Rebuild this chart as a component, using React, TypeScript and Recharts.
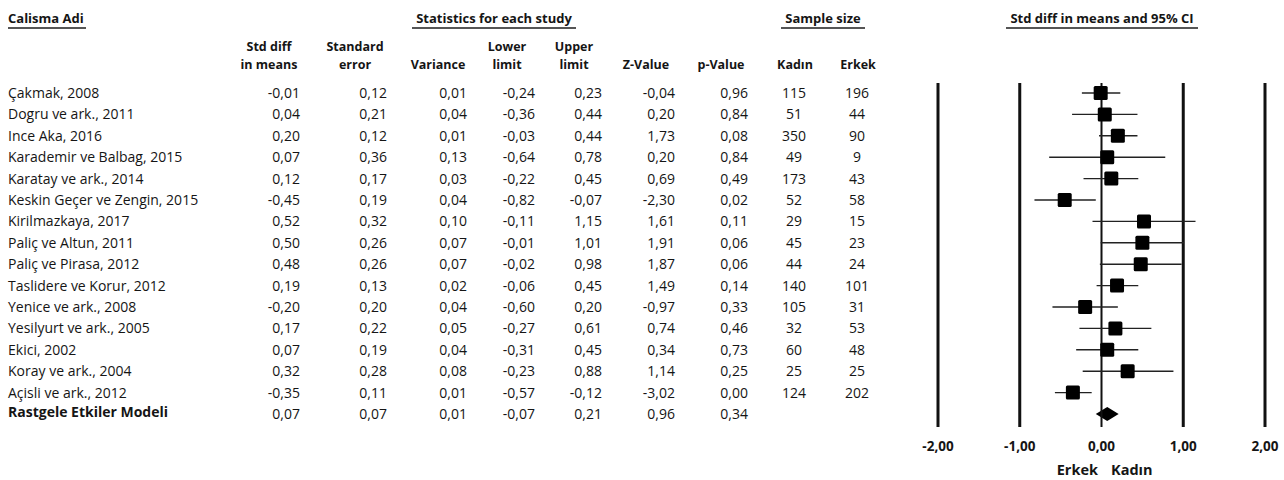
import React from "react";
import { ScatterChart, Scatter, XAxis, YAxis, ReferenceLine, ReferenceArea } from "recharts";

// Calisma verileri (forest plot)
const studies = [
  "Çakmak, 2008",
  "Dogru ve ark., 2011",
  "Ince Aka, 2016",
  "Karademir ve Balbag, 2015",
  "Karatay ve ark., 2014",
  "Keskin Geçer ve Zengin, 2015",
  "Kirilmazkaya, 2017",
  "Paliç ve Altun, 2011",
  "Paliç ve Pirasa, 2012",
  "Taslidere ve Korur, 2012",
  "Yenice ve ark., 2008",
  "Yesilyurt ve ark., 2005",
  "Ekici, 2002",
  "Koray ve ark., 2004",
  "Açisli ve ark., 2012",
];
const stdDiff = [-0.01, 0.04, 0.2, 0.07, 0.12, -0.45, 0.52, 0.5, 0.48, 0.19, -0.2, 0.17, 0.07, 0.32, -0.35];
const stdErr = [0.12, 0.21, 0.12, 0.36, 0.17, 0.19, 0.32, 0.26, 0.26, 0.13, 0.2, 0.22, 0.19, 0.28, 0.11];
const variance = [0.01, 0.04, 0.01, 0.13, 0.03, 0.04, 0.1, 0.07, 0.07, 0.02, 0.04, 0.05, 0.04, 0.08, 0.01];
const lower = [-0.24, -0.36, -0.03, -0.64, -0.22, -0.82, -0.11, -0.01, -0.02, -0.06, -0.6, -0.27, -0.31, -0.23, -0.57];
const upper = [0.23, 0.44, 0.44, 0.78, 0.45, -0.07, 1.15, 1.01, 0.98, 0.45, 0.2, 0.61, 0.45, 0.88, -0.12];
const zValue = [-0.04, 0.2, 1.73, 0.2, 0.69, -2.3, 1.61, 1.91, 1.87, 1.49, -0.97, 0.74, 0.34, 1.14, -3.02];
const pValue = [0.96, 0.84, 0.08, 0.84, 0.49, 0.02, 0.11, 0.06, 0.06, 0.14, 0.33, 0.46, 0.73, 0.25, 0.0];
const nKadin = [115, 51, 350, 49, 173, 52, 29, 45, 44, 140, 105, 32, 60, 25, 124];
const nErkek = [196, 44, 90, 9, 43, 58, 15, 23, 24, 101, 31, 53, 48, 25, 202];

const summaryName = "Rastgele Etkiler Modeli";
// std diff, std err, variance, lower, upper, z, p
const summaryStats = [0.07, 0.07, 0.01, -0.07, 0.21, 0.96, 0.34];

const xTicks = [-2, -1, 0, 1, 2];
const frameLines = [-2, -1, 1, 2];

const W = 1284;
const H = 480;
const ROW0 = 93;
const ROW_H = 21.4;
const PLOT_TOP = 83;
const PLOT_BOTTOM = 427;
const PLOT_LEFT = 938;
const PLOT_RIGHT = 1265;
const AXIS_H = 30;
const FONT = "'Open Sans', sans-serif";
const INK = "#151515";

const fmt = (v: number) => v.toFixed(2).replace(".", ",");
const rowY = (i: number) => ROW0 + ROW_H * i;

const points = studies.map((name, i) => ({ name, x: stdDiff[i], row: i }));
const summaryRow = studies.length;

// kolon yerlesimi: align "right" -> pos = sag kenar, "center" -> pos = orta
const columns = [
  { h1: "Std diff", h2: "in means", pos: 300, hc: 269, align: "right" },
  { h1: "Standard", h2: "error", pos: 387, hc: 355, align: "right" },
  { h1: "", h2: "Variance", pos: 467, hc: 438, align: "right" },
  { h1: "Lower", h2: "limit", pos: 535, hc: 507, align: "right" },
  { h1: "Upper", h2: "limit", pos: 602, hc: 574, align: "right" },
  { h1: "", h2: "Z-Value", pos: 675, hc: 646, align: "right" },
  { h1: "", h2: "p-Value", pos: 748, hc: 721, align: "right" },
  { h1: "", h2: "Kadın", pos: 794, hc: 795, align: "center" },
  { h1: "", h2: "Erkek", pos: 857, hc: 858, align: "center" },
];

const studyCells = (i: number) => [
  fmt(stdDiff[i]),
  fmt(stdErr[i]),
  fmt(variance[i]),
  fmt(lower[i]),
  fmt(upper[i]),
  fmt(zValue[i]),
  fmt(pValue[i]),
  String(nKadin[i]),
  String(nErkek[i]),
];

const Cell: React.FC<{ text: string; pos: number; top: number; align: string; bold?: boolean; size?: number }> = ({
  text,
  pos,
  top,
  align,
  bold,
  size,
}) => {
  const w = 200;
  const left = align === "right" ? pos - w : align === "center" ? pos - w / 2 : pos;
  return (
    <div
      style={{
        position: "absolute",
        left,
        top,
        width: w,
        textAlign: align as any,
        fontWeight: bold ? 700 : 400,
        fontSize: size ?? 14,
        whiteSpace: "nowrap",
        lineHeight: "18px",
      }}
    >
      {text}
    </div>
  );
};

const GroupHeader: React.FC<{ text: string; left: number; width: number }> = ({ text, left, width }) => (
  <div
    style={{
      position: "absolute",
      left,
      top: 9,
      width,
      textAlign: "center",
      fontWeight: 700,
      fontSize: 13,
      lineHeight: "18px",
      borderBottom: "2.5px solid #555",
    }}
  >
    {text}
  </div>
);

const Square = (props: any) => {
  const { cx, cy } = props;
  return <rect x={cx - 7} y={cy - 7} width={14} height={14} rx={1.5} fill="#000" />;
};

const Diamond = (props: any) => {
  const { x, y, width, height } = props;
  const mx = x + width / 2;
  const my = y + height / 2;
  return <polygon points={`${x},${my} ${mx},${y} ${x + width},${my} ${mx},${y + height}`} fill="#000" />;
};

export default function App() {
  return (
    <div
      style={{
        position: "absolute",
        left: 0,
        top: 0,
        width: W,
        height: H,
        background: "#fff",
        fontFamily: FONT,
        fontSize: 14,
        color: INK,
        overflow: "hidden",
      }}
    >
      <div
        style={{
          position: "absolute",
          left: 8,
          top: 9,
          fontWeight: 700,
          fontSize: 13,
          lineHeight: "18px",
          borderBottom: "2.5px solid #555",
          paddingRight: 2,
        }}
      >
        Calisma Adi
      </div>
      <GroupHeader text="Statistics for each study" left={412} width={164} />
      <GroupHeader text="Sample size" left={781} width={84} />
      <GroupHeader text="Std diff in means and 95% CI" left={1006} width={192} />

      {columns.map((c, k) => (
        <React.Fragment key={k}>
          {c.h1 && <Cell text={c.h1} pos={c.hc} top={38} align="center" bold size={12.5} />}
          <Cell text={c.h2} pos={c.hc} top={56} align="center" bold size={12.5} />
        </React.Fragment>
      ))}

      {studies.map((name, i) => (
        <React.Fragment key={name}>
          <Cell text={name} pos={8} top={rowY(i) - 9} align="left" />
          {studyCells(i).map((t, k) => (
            <Cell key={k} text={t} pos={columns[k].pos} top={rowY(i) - 9} align={columns[k].align} />
          ))}
        </React.Fragment>
      ))}
      <Cell text={summaryName} pos={8} top={rowY(summaryRow) - 11} align="left" bold />
      {summaryStats.map((v, k) => (
        <Cell key={k} text={fmt(v)} pos={columns[k].pos} top={rowY(summaryRow) - 9} align={columns[k].align} />
      ))}

      <div style={{ position: "absolute", left: 0, top: 0 }}>
        <ScatterChart
          width={W}
          height={H}
          margin={{ top: PLOT_TOP, bottom: H - PLOT_BOTTOM - AXIS_H, left: PLOT_LEFT, right: W - PLOT_RIGHT }}
        >
          <XAxis
            type="number"
            dataKey="x"
            domain={[-2, 2]}
            ticks={xTicks}
            tickFormatter={fmt}
            axisLine={false}
            tickLine={false}
            height={AXIS_H}
            tickMargin={8}
            tick={{ fontFamily: FONT, fontSize: 13.5, fontWeight: 700, fill: INK }}
          />
          <YAxis
            type="number"
            dataKey="row"
            hide
            width={0}
            reversed
            allowDataOverflow
            domain={[(PLOT_TOP - ROW0) / ROW_H, (PLOT_BOTTOM - ROW0) / ROW_H]}
          />
          {frameLines.map((v) => (
            <ReferenceLine key={v} x={v} stroke="#111" strokeWidth={3} />
          ))}
          <ReferenceLine x={0} stroke="#111" strokeWidth={2} />
          {studies.map((name, i) => (
            <ReferenceLine
              key={name}
              segment={[
                { x: lower[i], y: i },
                { x: upper[i], y: i },
              ]}
              stroke="#222"
              strokeWidth={1.4}
              ifOverflow="visible"
            />
          ))}
          <Scatter data={points} shape={Square} isAnimationActive={false} />
          <ReferenceArea
            x1={summaryStats[3]}
            x2={summaryStats[4]}
            y1={summaryRow - 0.33}
            y2={summaryRow + 0.33}
            shape={Diamond}
            ifOverflow="visible"
          />
        </ScatterChart>
      </div>

      <div
        style={{
          position: "absolute",
          left: 1030,
          top: 461,
          width: 68,
          textAlign: "right",
          fontWeight: 700,
          fontSize: 14.5,
          lineHeight: "17px",
        }}
      >
        Erkek
      </div>
      <div style={{ position: "absolute", left: 1111, top: 461, fontWeight: 700, fontSize: 14.5, lineHeight: "17px" }}>
        Kadın
      </div>
    </div>
  );
}
